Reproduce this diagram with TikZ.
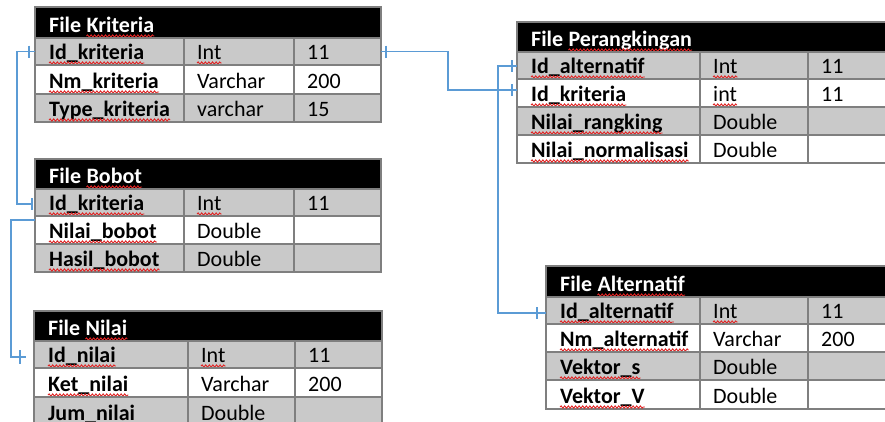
\documentclass[tikz,border=0pt]{standalone}
\usepackage{fontspec}
\setmainfont{Carlito}
\usetikzlibrary{decorations.pathmorphing}
\definecolor{squig}{HTML}{E02424}
\definecolor{gridgray}{HTML}{7F7F7F}
\definecolor{rowgray}{HTML}{C9C9C9}
\definecolor{lineblue}{HTML}{5B9BD5}
\tikzset{
  conn/.style={draw=lineblue, line width=1.5pt},
  rowbox/.style={draw=gridgray, line width=1.3pt, inner sep=0pt, outer sep=0pt},
  gridline/.style={draw=gridgray, line width=1.3pt},
  ctext/.style={anchor=base west, inner sep=0pt, font=\fontsize{22}{26}\selectfont},
  htext/.style={anchor=base west, inner sep=0pt, text=white, font=\fontsize{22}{26}\selectfont\bfseries},
  squigline/.style={draw=squig, line width=0.9pt, decorate, decoration={snake, amplitude=1.1pt, segment length=3.6pt}},
}
\newcommand\squiggle[1]{\draw[squigline] ([yshift=-4pt]#1.base west) -- ([yshift=-4pt]#1.base east);}
% row: name, ytop, ybot, fill, text1, text2, text3, squiggle under text2 (1/0)
\newcommand\trow[8]{%
  \node[rowbox, fill=#4, minimum width={\xd-\xa}, minimum height={#3-#2}] (#1) at ({(\xa+\xd)/2},{(#2+#3)/2}) {};
  \node[ctext] (#1-a) at ({\xa+14},{#3-6}) {\bfseries #5};
  \node[ctext] (#1-b) at ({\xb+13},{#3-6}) {#6};
  \node[ctext] (#1-c) at ({\xc+13},{#3-6}) {#7};
  \squiggle{#1-a}
  \ifnum#8=1 \squiggle{#1-b}\fi
}
% header: name, ytop, ybot, second word
\newcommand\thead[4]{%
  \node[rowbox, fill=black, minimum width={\xd-\xa}, minimum height={#3-#2}] (#1) at ({(\xa+\xd)/2},{(#2+#3)/2}) {};
  \node[htext] (#1-t) at ({\xa+14},{#3-6}) {File};
  \node[htext] (#1-w) at ([xshift=5pt]#1-t.base east) {#4};
  \squiggle{#1-w}
}
% column lines: ytop, ybot
\newcommand\tcols[2]{%
  \draw[gridline] (\xb,#1) -- (\xb,#2);
  \draw[gridline] (\xc,#1) -- (\xc,#2);
}
\begin{document}
\begin{tikzpicture}[x=1pt,y=-1pt]
\useasboundingbox (0,0) rectangle (885,421);
\fill[white] (0,0) rectangle (885,421);
\clip (0,0) rectangle (885,421);

% File Kriteria
\def\xa{35}\def\xb{184}\def\xc{294}\def\xd{381}
\thead{kh}{7}{38}{Kriteria}
\trow{k1}{38}{65}{rowgray}{Id\_kriteria}{Int}{11}{1}
\trow{k2}{65}{94}{white}{Nm\_kriteria}{Varchar}{200}{0}
\trow{k3}{94}{122}{rowgray}{Type\_kriteria}{varchar}{15}{0}
\tcols{38}{122}

% File Bobot
\thead{bh}{159}{189}{Bobot}
\trow{b1}{189}{216}{rowgray}{Id\_kriteria}{Int}{11}{1}
\trow{b2}{216}{244}{white}{Nilai\_bobot}{Double}{}{0}
\trow{b3}{244}{272}{rowgray}{Hasil\_bobot}{Double}{}{0}
\tcols{189}{272}

% File Nilai
\def\xa{34}\def\xb{188}\def\xc{295}\def\xd{382}
\thead{nh}{311}{341}{Nilai}
\trow{n1}{341}{368}{rowgray}{Id\_nilai}{Int}{11}{1}
\trow{n2}{368}{397}{white}{Ket\_nilai}{Varchar}{200}{0}
\trow{n3}{397}{426}{rowgray}{Jum\_nilai}{Double}{}{0}
\tcols{341}{426}

% File Perangkingan
\def\xa{517}\def\xb{700}\def\xc{808}\def\xd{900}
\thead{ph}{22}{52}{Perangkingan}
\trow{p1}{52}{79}{rowgray}{Id\_alternatif}{Int}{11}{1}
\trow{p2}{79}{107}{white}{Id\_kriteria}{int}{11}{1}
\trow{p3}{107}{135}{rowgray}{Nilai\_rangking}{Double}{}{0}
\trow{p4}{135}{163}{white}{Nilai\_normalisasi}{Double}{}{0}
\tcols{52}{163}

% File Alternatif
\def\xa{546}\def\xb{700}\def\xc{808}\def\xd{900}
\thead{ah}{266}{297}{Alternatif}
\trow{a1}{297}{324}{rowgray}{Id\_alternatif}{Int}{11}{1}
\trow{a2}{324}{352}{white}{Nm\_alternatif}{Varchar}{200}{0}
\trow{a3}{352}{380}{rowgray}{Vektor\_s}{Double}{}{0}
\trow{a4}{380}{409}{white}{Vektor\_V}{Double}{}{0}
\tcols{297}{409}

% connectors
\draw[conn] (k1.west) -- ++(-18,0) |- ([xshift=-3pt,yshift=-1.5pt]b1.west);
\draw[conn] ([xshift=-6pt]k1.west) ++(0,-6) -- ++(0,12);
\draw[conn] ([xshift=-3pt,yshift=-1.5pt]b1.west) ++(0,-6) -- ++(0,12);

\draw[conn] ([yshift=-4pt]b2.north west) -- ++(-24,0) |- ([xshift=-8pt,yshift=-2.5pt]n1.west);
\draw[conn] ([xshift=-14pt,yshift=-2.5pt]n1.west) ++(0,-7) -- ++(0,14);

\draw[conn] (k1.east) -- ++(67,0) |- ([yshift=3pt]p2.west);
\draw[conn] ([xshift=5pt]k1.east) ++(0,-6) -- ++(0,12);
\draw[conn] ([xshift=-5pt,yshift=3pt]p2.west) ++(0,-6) -- ++(0,12);

\draw[conn] ([yshift=-0.5pt]p1.west) -- ++(-19,0) |- ([yshift=-2.5pt]a1.west);
\draw[conn] ([xshift=-5pt,yshift=-0.5pt]p1.west) ++(0,-6) -- ++(0,12);
\draw[conn] ([xshift=-9pt,yshift=-2.5pt]a1.west) ++(0,-6) -- ++(0,12);
\end{tikzpicture}
\end{document}
